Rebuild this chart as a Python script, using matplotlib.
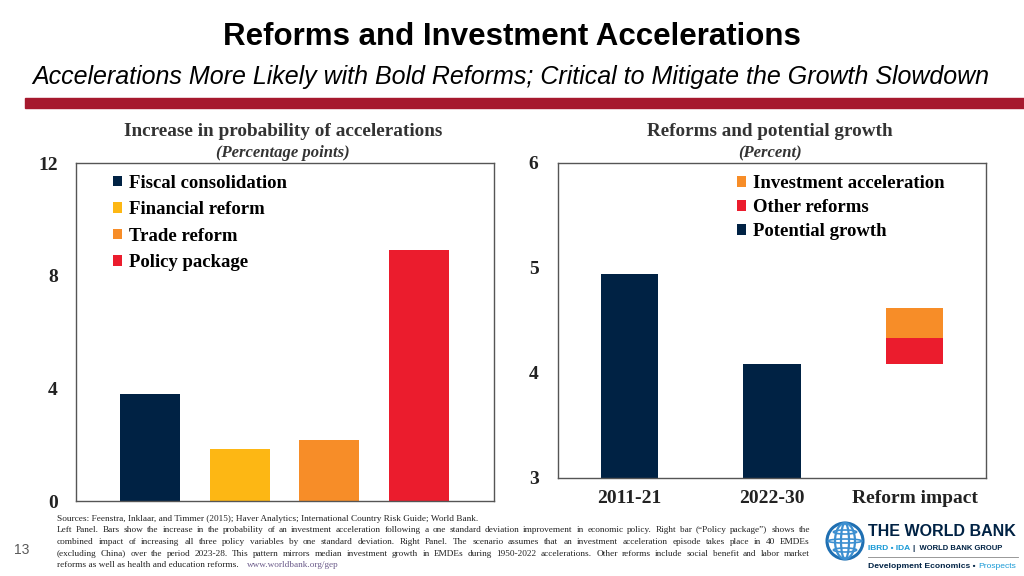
import matplotlib.pyplot as plt
from matplotlib.patches import Circle, Ellipse, Rectangle

# left panel data
policies = ['Fiscal consolidation', 'Financial reform', 'Trade reform', 'Policy package']
prob_increase = [3.8, 1.85, 2.15, 8.9]

# right panel data
periods = ['2011-21', '2022-30', 'Reform impact']
potential_growth = [4.94, 4.08, 0.0]
other_reforms = [0.0, 0.0, 0.25]
invest_accel = [0.0, 0.0, 0.29]

NAVY = '#002244'
YELLOW = '#FDB714'
ORANGE = '#F78D28'
RED = '#EB1C2D'
W, H = 1024, 576
SERIF = 'Liberation Serif'
SANS = 'Liberation Sans'


def fx(px):
    return px / W


def fy(py):
    return 1 - py / H


def style_axes(ax):
    for s in ax.spines.values():
        s.set_color('#555555')
        s.set_linewidth(1.0)
    ax.tick_params(length=0, labelsize=14, colors='#222222')
    for lab in ax.get_xticklabels() + ax.get_yticklabels():
        lab.set_family(SERIF)
        lab.set_fontweight('bold')


def justified_line(fig, renderer, text, x0, x1, y, **kw):
    # spread the words of one line evenly between x0 and x1 (pixels)
    words = text.split(' ')
    items = [fig.text(0, fy(y), wd, ha='left', va='baseline', **kw) for wd in words]
    widths = [t.get_window_extent(renderer).width for t in items]
    gap = (x1 - x0 - sum(widths)) / (len(words) - 1)
    pos = x0
    for t, wdt in zip(items, widths):
        t.set_x(fx(pos))
        pos += wdt + gap


fig = plt.figure(figsize=(W / 100, H / 100), dpi=100)
renderer = fig.canvas.get_renderer()

# header
fig.text(0.5, fy(37), 'Reforms and Investment Accelerations', ha='center', va='center',
         family=SANS, fontweight='bold', fontsize=22.5)
fig.text(fx(511), fy(77), 'Accelerations More Likely with Bold Reforms; Critical to Mitigate the Growth Slowdown',
         ha='center', va='center', family=SANS, style='italic', fontsize=18)
fig.patches.append(Rectangle((fx(25), fy(108)), 1 - fx(25), 10 / H, transform=fig.transFigure,
                             color='#A6192E', zorder=0))

# left panel
ax1 = fig.add_axes([fx(76), fy(501), fx(418), 338 / H])
x1 = range(len(policies))
bars = ax1.bar(x1, prob_increase, width=0.67, color=[NAVY, YELLOW, ORANGE, RED])
ax1.set_xlim(-0.83, 3.84)
ax1.set_ylim(0, 12)
ax1.set_yticks([0, 4, 8, 12])
ax1.set_xticks([])
ax1.tick_params(axis='y', pad=13)
style_axes(ax1)
ax1.legend(bars, policies, loc='upper left', bbox_to_anchor=(0.048, 1.015), frameon=False,
           prop={'family': SERIF, 'weight': 'bold', 'size': 13.5}, handlelength=0.5,
           handleheight=0.5, handletextpad=0.35, labelspacing=0.5)

fig.text(fx(283), fy(131), 'Increase in probability of accelerations', ha='center', va='center',
         family=SERIF, fontweight='bold', fontsize=13.9, color='#333333')
fig.text(fx(283), fy(153), '(Percentage points)', ha='center', va='center',
         family=SERIF, fontweight='bold', style='italic', fontsize=12, color='#333333')

# right panel
ax2 = fig.add_axes([fx(558), fy(477.7), fx(428), 314.7 / H])
x2 = range(len(periods))
stack_base = [0, 0, potential_growth[1]]
b_pot = ax2.bar(x2, potential_growth, width=0.4, color=NAVY)
b_oth = ax2.bar(x2, other_reforms, width=0.4, bottom=stack_base, color=RED)
top_base = [b + o for b, o in zip(stack_base, other_reforms)]
b_inv = ax2.bar(x2, invest_accel, width=0.4, bottom=top_base, color=ORANGE)
ax2.set_xlim(-0.5, 2.5)
ax2.set_ylim(3, 6)
ax2.set_yticks([3, 4, 5, 6])
ax2.set_xticks(list(x2))
ax2.set_xticklabels(periods)
ax2.tick_params(axis='y', pad=14)
ax2.tick_params(axis='x', pad=9)
style_axes(ax2)
ax2.legend([b_inv, b_oth, b_pot], ['Investment acceleration', 'Other reforms', 'Potential growth'],
           loc='upper left', bbox_to_anchor=(0.379, 1.015), frameon=False,
           prop={'family': SERIF, 'weight': 'bold', 'size': 13.5}, handlelength=0.5,
           handleheight=0.5, handletextpad=0.35, labelspacing=0.37)

fig.text(fx(770), fy(131), 'Reforms and potential growth', ha='center', va='center',
         family=SERIF, fontweight='bold', fontsize=13.8, color='#333333')
fig.text(fx(770), fy(153), '(Percent)', ha='center', va='center',
         family=SERIF, fontweight='bold', style='italic', fontsize=12, color='#333333')

# footnote
note_kw = dict(family=SERIF, fontsize=6.7, color='#222222')
notes = [
    'Sources: Feenstra, Inklaar, and Timmer (2015); Haver Analytics; International Country Risk Guide; World Bank.',
    'Left Panel. Bars show the increase in the probability of an investment acceleration following a one standard deviation improvement in economic policy. Right bar (\u201cPolicy package\u201d) shows the',
    'combined impact of increasing all three policy variables by one standard deviation. Right Panel. The scenario assumes that an investment acceleration episode takes place in 40 EMDEs',
    '(excluding China) over the period 2023-28. This pattern mirrors median investment growth in EMDEs during 1950-2022 accelerations. Other reforms include social benefit and labor market',
    'reforms as well as health and education reforms.',
]
for i, line in enumerate(notes):
    y = 521 + 11.5 * i
    if i in (1, 2, 3):
        justified_line(fig, renderer, line, 57, 810, y, **note_kw)
    else:
        fig.text(fx(57), fy(y), line, ha='left', va='baseline', **note_kw)
fig.text(fx(247), fy(567), 'www.worldbank.org/gep', ha='left', va='baseline', family=SERIF,
         fontsize=6.7, color='#6B5B8A')
fig.text(fx(22), fy(550), '13', ha='center', va='center', family=SANS,
         fontsize=10, color='#595959')

# logo
fig.patches.append(Circle((845, H - 541), 18, transform=None, fill=False, lw=2.2, ec='#1F6FB2'))
for wdt in (8, 20):
    fig.patches.append(Ellipse((845, H - 541), wdt, 36, transform=None, fill=False, lw=1.6,
                               ec='#3C8FD0'))
for dy in (-9, 0, 9):
    fig.patches.append(Ellipse((845, H - 541 + dy), 34 - abs(dy) * 1.2, 4, transform=None,
                               fill=False, lw=1.2, ec='#3C8FD0'))
fig.text(fx(868), fy(532), 'THE WORLD BANK', ha='left', va='center', family=SANS,
         fontweight='bold', fontsize=11.5, color=NAVY)
t_ibrd = fig.text(fx(868), fy(549), 'IBRD \u2022 IDA', ha='left', va='center', family=SANS,
                  fontweight='bold', fontsize=6, color='#1A9AD6')
x_end = 868 + t_ibrd.get_window_extent(renderer).width + 3
fig.text(fx(x_end), fy(549), '|  WORLD BANK GROUP', ha='left', va='center', family=SANS,
         fontweight='bold', fontsize=5.5, color=NAVY)
fig.lines.append(plt.Line2D([fx(868), fx(1018)], [fy(557), fy(557)], transform=fig.transFigure,
                            color='#888888', lw=0.6))
t_dev = fig.text(fx(868), fy(566), 'Development Economics \u2022', ha='left', va='center',
                 family=SANS, fontweight='bold', fontsize=6.1, color=NAVY)
x_end = 868 + t_dev.get_window_extent(renderer).width + 3
fig.text(fx(x_end), fy(566), 'Prospects', ha='left', va='center', family=SANS,
         fontsize=6.1, color='#1A9AD6')

fig.savefig('out.png', dpi=100, facecolor='white')
